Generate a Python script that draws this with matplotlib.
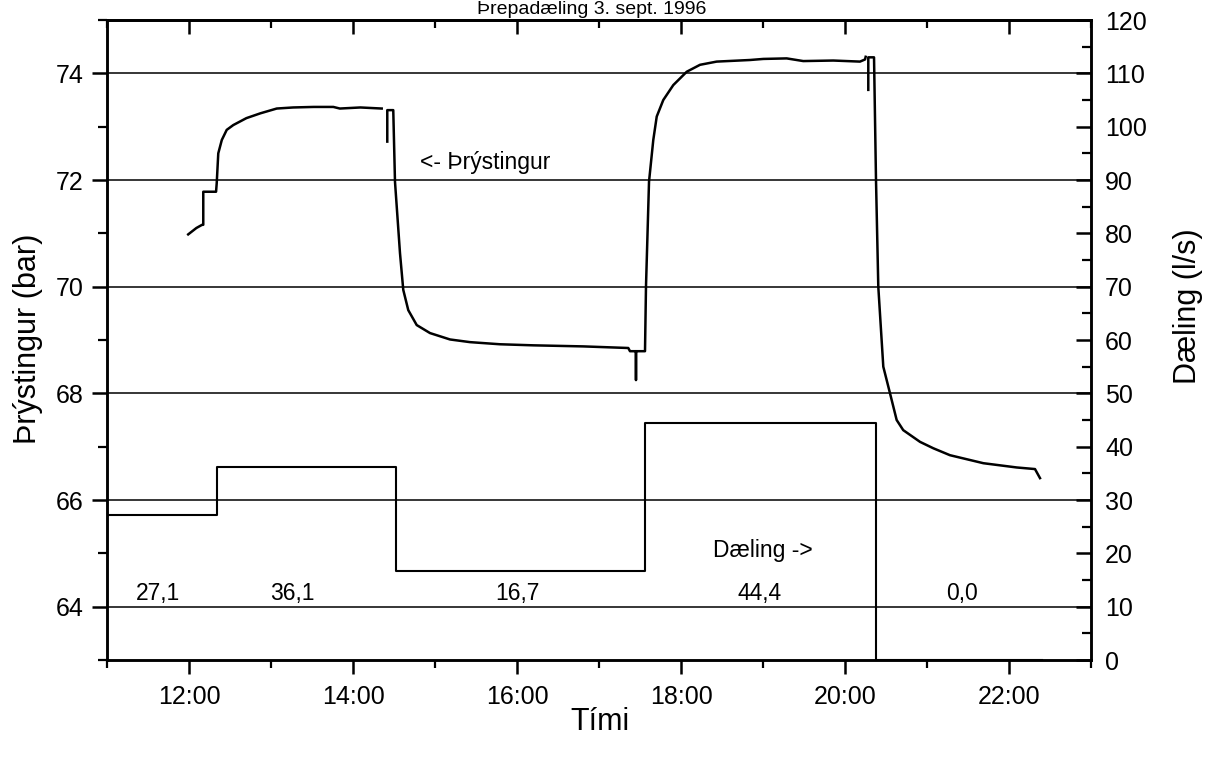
import numpy as np
import matplotlib
matplotlib.use("Agg")
import matplotlib.pyplot as plt
from matplotlib.ticker import MultipleLocator, FixedLocator

plt.rcParams['font.family'] = ['Liberation Sans', 'DejaVu Sans']

nan = np.nan
# Pressure (bar) vs time (decimal hours); NaN marks gaps in the record
p_time = [11.99, 12.09, 12.16, 12.174, 12.174, 12.33, 12.338, 12.357, 12.40, 12.46,
          12.54, 12.70, 12.87, 13.07, 13.27, 13.52, 13.76, 13.84, 14.09, 14.35, nan,
          14.418, 14.418, 14.491, 14.512, 14.573, 14.613, 14.674, 14.777, 14.939, 15.183,
          15.427, 15.793, 16.199, 16.809, 17.357, 17.378, 17.451, 17.451, 17.451, 17.561,
          17.573, 17.61, 17.662, 17.704, 17.784, 17.906, 18.07, 18.232, 18.435, 18.841,
          19.004, 19.289, 19.491, 19.857, 20.183, 20.244, 20.252, nan,
          20.284, 20.284, 20.354, 20.378, 20.406, 20.467, 20.549, 20.63, 20.71, 20.915,
          21.077, 21.28, 21.687, 22.094, 22.317, 22.378]
p_bar = [70.98, 71.10, 71.16, 71.16, 71.78, 71.78, 71.94, 72.50, 72.75, 72.94,
         73.03, 73.16, 73.25, 73.34, 73.36, 73.37, 73.37, 73.34, 73.36, 73.34, nan,
         72.72, 73.31, 73.31, 71.97, 70.63, 69.94, 69.56, 69.28, 69.13, 69.01,
         68.96, 68.92, 68.90, 68.88, 68.85, 68.79, 68.79, 68.25, 68.79, 68.79,
         70.0, 71.97, 72.75, 73.19, 73.50, 73.78, 74.03, 74.16, 74.22, 74.25,
         74.27, 74.28, 74.23, 74.24, 74.22, 74.26, 74.31, nan,
         73.69, 74.30, 74.30, 72.0, 70.0, 68.5, 68.0, 67.5, 67.31, 67.09,
         66.97, 66.84, 66.69, 66.61, 66.58, 66.41]

# Pumping rate (l/s) steps
q_time = [11.0, 12.34, 14.52, 17.56, 20.38, 22.4]
q_rate = [27.1, 36.1, 16.7, 44.4, 0.0, 0.0]
q_labels = ["27,1", "36,1", "16,7", "44,4", "0,0"]
q_label_time = [11.62, 13.26, 16.0, 18.96, 21.43]

xtick_hours = [12, 14, 16, 18, 20, 22]
xtick_labels = ["12:00", "14:00", "16:00", "18:00", "20:00", "22:00"]
xminor_hours = [11, 13, 15, 17, 19, 21, 23]

W, H = 1207, 758
fig = plt.figure(figsize=(W / 100, H / 100), dpi=100)
ax = fig.add_axes([107 / W, 1 - 660 / H, 984 / W, 640 / H])
ax2 = ax.twinx()

lw_sp = 1.8
for a in (ax, ax2):
    for s in a.spines.values():
        s.set_linewidth(lw_sp)

ax.set_xlim(11, 23)
ax.set_ylim(63, 75)
ax2.set_ylim(0, 120)

ax.grid(axis='y', which='major', color='black', linewidth=1.1)
ax.set_axisbelow(True)

ax.plot(p_time, p_bar, color='black', linewidth=1.8, zorder=3)
ax2.step(q_time, q_rate, where='post', color='black', linewidth=1.5, zorder=3)

# left axis ticks
ax.yaxis.set_major_locator(MultipleLocator(2))
ax.yaxis.set_minor_locator(MultipleLocator(1))
ax.tick_params(axis='y', which='major', direction='out', length=10.8, width=1.8,
               labelsize=18, pad=6, right=False)
ax.tick_params(axis='y', which='minor', direction='out', length=6.5, width=1.6, right=False)

# bottom axis ticks
ax.xaxis.set_major_locator(FixedLocator(xtick_hours))
ax.xaxis.set_minor_locator(FixedLocator(xminor_hours))
ax.set_xticklabels(xtick_labels)
ax.tick_params(axis='x', which='major', direction='out', length=10, width=1.8,
               labelsize=18, pad=8, top=False)
ax.tick_params(axis='x', which='minor', direction='out', length=5.5, width=1.6, top=False)

# top axis ticks (inward)
top = ax.secondary_xaxis('top')
top.xaxis.set_major_locator(FixedLocator(xtick_hours))
top.xaxis.set_minor_locator(FixedLocator(xminor_hours))
top.tick_params(axis='x', which='major', direction='in', length=10, width=1.8, labeltop=False)
top.tick_params(axis='x', which='minor', direction='in', length=5.8, width=1.6)
top.spines['top'].set_linewidth(lw_sp)

# right axis ticks (inward)
ax2.yaxis.set_major_locator(MultipleLocator(10))
ax2.yaxis.set_minor_locator(MultipleLocator(5))
ax2.tick_params(axis='y', which='major', direction='in', length=10.8, width=1.8,
                labelsize=18, pad=10)
ax2.tick_params(axis='y', which='minor', direction='in', length=6.5, width=1.6)

# annotations
for lab, t in zip(q_labels, q_label_time):
    ax2.text(t, 12.5, lab, ha='center', va='center', fontsize=16.5)
ax2.text(19.0, 20.6, "Dæling ->", ha='center', va='center', fontsize=16.5)
ax.text(14.817, 72.32, "<- Þrýstingur", ha='left', va='center', fontsize=16.5)

# axis labels
fig.text(28 / W, 1 - 339 / H, "Þrýstingur (bar)", rotation=90, ha='center', va='center', fontsize=22)
fig.text(1188 / W, 1 - 306 / H, "Dæling (l/s)", rotation=90, ha='center', va='center', fontsize=22)
fig.text(600 / W, 1 - 722 / H, "Tími", ha='center', va='center', fontsize=22)
fig.text(592 / W, 1 - 1 / H, "Þrepadæling 3. sept. 1996", ha='center', va='top', fontsize=14)

fig.savefig("out.png", dpi=100, facecolor='white')
